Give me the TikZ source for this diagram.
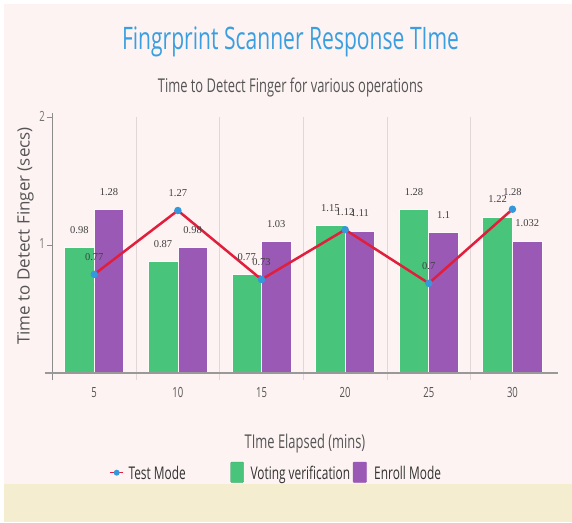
\documentclass[tikz,border=0pt]{standalone}
\usepackage{fontspec}
\setmainfont{Open Sans}
\newfontfamily\condfont[FakeStretch=0.68]{Open Sans}
\newfontfamily\valfont{Liberation Serif}
\definecolor{pinkbg}{RGB}{253,243,243}
\definecolor{beigebg}{RGB}{245,237,207}
\definecolor{titleblue}{RGB}{58,159,224}
\definecolor{textgray}{RGB}{85,85,85}
\definecolor{votegreen}{RGB}{72,197,122}
\definecolor{enrollpurple}{RGB}{155,89,182}
\definecolor{testred}{RGB}{225,30,60}
\definecolor{dotblue}{RGB}{52,152,219}
\definecolor{gridgray}{RGB}{225,215,215}

\begin{document}
\begin{tikzpicture}[x=1pt, y=1pt,
  charttitle/.style={font=\condfont\fontsize{31}{31}\selectfont, text=titleblue, anchor=base},
  chartsub/.style={font=\condfont\fontsize{19}{19}\selectfont, text=textgray, anchor=base},
  axistitle/.style={font=\condfont\fontsize{19}{19}\selectfont, text=textgray},
  ticklabel/.style={font=\condfont\fontsize{14}{14}\selectfont, text=textgray},
  legendtext/.style={font=\condfont\fontsize{17.5}{17.5}\selectfont, text=black!80, anchor=base west},
  vallabel/.style={font=\valfont\fontsize{10.5}{10.5}\selectfont, text=black!75, yshift=17.5pt},
  gridline/.style={draw=gridgray, line width=0.6pt},
  votebar/.style={fill=votegreen, draw=white!60!pinkbg, line width=0.7pt},
  enrollbar/.style={fill=enrollpurple, draw=white!60!pinkbg, line width=0.7pt},
  testline/.style={draw=testred, line width=2.5pt, line join=round},
  testdot/.style={circle, fill=dotblue, inner sep=0pt, minimum size=7.5pt}]
\useasboundingbox (0,0) rectangle (572,522);
\fill[pinkbg] (4,38) rectangle (572,518);
\fill[beigebg] (4,0) rectangle (572,38);
\node[charttitle] (title) at (290.5,472.7) {Fingrprint Scanner Response TIme};
\node[chartsub] (subtitle) at (290.5,429.3) {Time to Detect Finger for various operations};
\node[axistitle, rotate=90, font=\fontsize{17}{17}\selectfont] (ytitle) at (25.5,286) {Time to Detect Finger (secs)};
\node[axistitle, anchor=base] (xtitle) at (305,73.7) {TIme Elapsed (mins)};
\begin{scope}[shift={(10.55,149.3)}, x=83.65pt, y=127.7pt]
  \draw[gridline] (1.5,-0.055) -- (1.5,2);
  \draw[gridline] (2.5,-0.055) -- (2.5,2);
  \draw[gridline] (3.5,-0.055) -- (3.5,2);
  \draw[gridline] (4.5,-0.055) -- (4.5,2);
  \draw[gridline] (5.5,-0.055) -- (5.5,2);
  \draw[black!45, line width=0.8pt] (0.5,-0.06) -- (0.5,2.03);
  \draw[black!45, line width=0.8pt] (0.436,1) -- (0.5,1);
  \draw[black!45, line width=0.8pt] (0.436,2) -- (0.5,2);
  \node[ticklabel, text=black!55] (y1) at (0.376,1.01) {1};
  \node[ticklabel, text=black!55] (y2) at (0.376,2.01) {2};
  \fill[votebar] (0.646,0) rectangle (1,0.98);
  \fill[enrollbar] (1,0) rectangle (1.354,1.28);
  \fill[votebar] (1.646,0) rectangle (2,0.87);
  \fill[enrollbar] (2,0) rectangle (2.354,0.98);
  \fill[votebar] (2.646,0) rectangle (3,0.77);
  \fill[enrollbar] (3,0) rectangle (3.354,1.03);
  \fill[votebar] (3.646,0) rectangle (4,1.15);
  \fill[enrollbar] (4,0) rectangle (4.354,1.11);
  \fill[votebar] (4.646,0) rectangle (5,1.28);
  \fill[enrollbar] (5,0) rectangle (5.354,1.1);
  \fill[votebar] (5.646,0) rectangle (6,1.22);
  \fill[enrollbar] (6,0) rectangle (6.354,1.032);
  \draw[black!40, line width=1.6pt] (0.412,0) -- (6.545,0);
  \node[ticklabel] (x5) at (1,-0.156) {5};
  \node[ticklabel] (x10) at (2,-0.156) {10};
  \node[ticklabel] (x15) at (3,-0.156) {15};
  \node[ticklabel] (x20) at (4,-0.156) {20};
  \node[ticklabel] (x25) at (5,-0.156) {25};
  \node[ticklabel] (x30) at (6,-0.156) {30};
  \coordinate (p5) at (1,0.77);
  \coordinate (p10) at (2,1.27);
  \coordinate (p15) at (3,0.73);
  \coordinate (p20) at (4,1.12);
  \coordinate (p25) at (5,0.7);
  \coordinate (p30) at (6,1.28);
  \draw[testline] (p5) -- (p10) -- (p15) -- (p20) -- (p25) -- (p30);
  \node[testdot] at (p5) {};
  \node[testdot] at (p10) {};
  \node[testdot] at (p15) {};
  \node[testdot] at (p20) {};
  \node[testdot] at (p25) {};
  \node[testdot] at (p30) {};
  \node[vallabel] (v5) at (0.823,0.98) {0.98};
  \node[vallabel] (e5) at (1.177,1.28) {1.28};
  \node[vallabel] (t5) at (p5) {0.77};
  \node[vallabel] (v10) at (1.823,0.87) {0.87};
  \node[vallabel] (e10) at (2.177,0.98) {0.98};
  \node[vallabel] (t10) at (p10) {1.27};
  \node[vallabel] (v15) at (2.823,0.77) {0.77};
  \node[vallabel] (e15) at (3.177,1.03) {1.03};
  \node[vallabel] (t15) at (p15) {0.73};
  \node[vallabel] (v20) at (3.823,1.15) {1.15};
  \node[vallabel] (e20) at (4.177,1.11) {1.11};
  \node[vallabel] (t20) at (p20) {1.12};
  \node[vallabel] (v25) at (4.823,1.28) {1.28};
  \node[vallabel] (e25) at (5.177,1.1) {1.1};
  \node[vallabel] (t25) at (p25) {0.7};
  \node[vallabel] (v30) at (5.823,1.22) {1.22};
  \node[vallabel] (e30) at (6.177,1.032) {1.032};
  \node[vallabel] (t30) at (p30) {1.28};
\end{scope}
\coordinate (legl) at (110,49.3);
\coordinate (legr) at (123,49.3);
\draw[testred, line width=1pt] (legl) -- (legr);
\node[testdot, minimum size=6pt] (legdot) at (116.7,49.3) {};
\node[legendtext] (legtest) at (125,42.7) {Test Mode};
\draw[fill=votegreen, draw=votegreen!80!black, rounded corners=1pt] (230.7,39.5) rectangle (243.7,60);
\node[legendtext] (legvote) at (247,42.7) {Voting verification};
\draw[fill=enrollpurple, draw=enrollpurple, rounded corners=1pt] (353,39.5) rectangle (366.7,60);
\node[legendtext] (legenroll) at (370.7,42.7) {Enroll Mode};
\end{tikzpicture}
\end{document}
